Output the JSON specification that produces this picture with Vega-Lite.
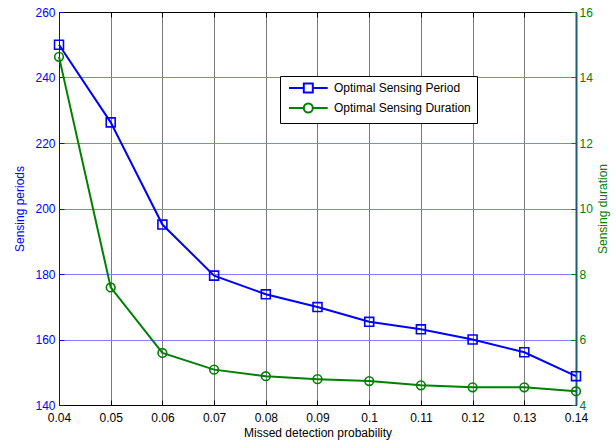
{
  "$schema": "https://vega.github.io/schema/vega-lite/v6.json",
  "width": 517,
  "height": 393,
  "autosize": {"type": "none"},
  "padding": {"left": 59, "top": 12, "right": 40, "bottom": 37},
  "background": "white",
  "config": {
    "font": "Liberation Sans",
    "view": {"stroke": "black", "strokeWidth": 1},
    "axis": {"labelFontSize": 12, "titleFontSize": 12, "titleFontWeight": "normal", "tickSize": -5, "tickWidth": 1, "domainWidth": 1, "labelFlush": false}
  },
  "data": {
    "values": [
      {"p": 0.04, "series": "Optimal Sensing Period", "v": 250},
      {"p": 0.05, "series": "Optimal Sensing Period", "v": 226.3},
      {"p": 0.06, "series": "Optimal Sensing Period", "v": 195.1},
      {"p": 0.07, "series": "Optimal Sensing Period", "v": 179.5},
      {"p": 0.08, "series": "Optimal Sensing Period", "v": 173.8},
      {"p": 0.09, "series": "Optimal Sensing Period", "v": 169.9},
      {"p": 0.10, "series": "Optimal Sensing Period", "v": 165.4},
      {"p": 0.11, "series": "Optimal Sensing Period", "v": 163.1},
      {"p": 0.12, "series": "Optimal Sensing Period", "v": 160},
      {"p": 0.13, "series": "Optimal Sensing Period", "v": 156.1},
      {"p": 0.14, "series": "Optimal Sensing Period", "v": 148.8},
      {"p": 0.04, "series": "Optimal Sensing Duration", "v": 14.63},
      {"p": 0.05, "series": "Optimal Sensing Duration", "v": 7.59},
      {"p": 0.06, "series": "Optimal Sensing Duration", "v": 5.59},
      {"p": 0.07, "series": "Optimal Sensing Duration", "v": 5.08},
      {"p": 0.08, "series": "Optimal Sensing Duration", "v": 4.88},
      {"p": 0.09, "series": "Optimal Sensing Duration", "v": 4.79},
      {"p": 0.10, "series": "Optimal Sensing Duration", "v": 4.73},
      {"p": 0.11, "series": "Optimal Sensing Duration", "v": 4.60},
      {"p": 0.12, "series": "Optimal Sensing Duration", "v": 4.54},
      {"p": 0.13, "series": "Optimal Sensing Duration", "v": 4.54},
      {"p": 0.14, "series": "Optimal Sensing Duration", "v": 4.42}
    ]
  },
  "encoding": {
    "color": {
      "field": "series",
      "type": "nominal",
      "scale": {"domain": ["Optimal Sensing Period", "Optimal Sensing Duration"], "range": ["#0000ff", "#008000"]},
      "legend": {
        "orient": "none",
        "legendX": 221,
        "legendY": 64,
        "title": null,
        "strokeColor": "black",
        "fillColor": "white",
        "padding": 6,
        "symbolSize": 100,
        "symbolStrokeWidth": 2,
        "labelFontSize": 12,
        "labelColor": "black",
        "labelOffset": 36,
        "rowPadding": 2,
        "encode": {
          "symbols": {
            "update": {
              "shape": {"signal": "datum.value === 'Optimal Sensing Period' ? 'M-0.6,0H2.36M4.16,0H7.14M2.36,-0.9H4.16V0.9H2.36Z' : 'M-0.6,0H2.36M4.16,0H7.14M4.16,0A0.9,0.9 0 1,1 2.36,0A0.9,0.9 0 1,1 4.16,0Z'"},
              "fill": {"value": "transparent"},
              "strokeWidth": {"value": 2}
            }
          }
        }
      }
    }
  },
  "layer": [
    {
      "transform": [{"filter": "datum.series === 'Optimal Sensing Period'"}],
      "encoding": {
        "x": {
          "field": "p", "type": "quantitative",
          "scale": {"domain": [0.04, 0.14], "nice": false, "zero": false},
          "axis": {
            "title": "Missed detection probability",
            "titleColor": "black",
            "values": [0.04, 0.05, 0.06, 0.07, 0.08, 0.09, 0.1, 0.11, 0.12, 0.13, 0.14],
            "format": ".2~f",
            "labelColor": "black",
            "labelFlush": false,
            "domainColor": "black",
            "tickColor": "black",
            "grid": true,
            "gridColor": "#7a7a7a",
            "gridWidth": 1,
            "labelPadding": 12,
            "titlePadding": 4
          }
        },
        "y": {
          "field": "v", "type": "quantitative",
          "scale": {"domain": [140, 260], "nice": false, "zero": false},
          "axis": {
            "orient": "left",
            "title": "Sensing periods",
            "titleColor": "#0000ff",
            "values": [140, 160, 180, 200, 220, 240, 260],
            "labelColor": "#0000ff",
            "domainColor": "#0000ff",
            "tickColor": "#0000ff",
            "grid": true,
            "gridColor": "#8080ff",
            "gridWidth": 1,
            "labelPadding": 9,
            "titlePadding": 8
          }
        }
      },
      "layer": [
        {"mark": {"type": "line", "strokeWidth": 2}},
        {"mark": {"type": "point", "shape": "square", "filled": false, "size": 80, "strokeWidth": 1.6, "opacity": 1}}
      ]
    },
    {
      "transform": [{"filter": "datum.series === 'Optimal Sensing Duration'"}],
      "encoding": {
        "x": {
          "field": "p", "type": "quantitative",
          "scale": {"domain": [0.04, 0.14], "nice": false, "zero": false},
          "axis": {
            "orient": "top",
            "title": null,
            "labels": false,
            "values": [0.04, 0.05, 0.06, 0.07, 0.08, 0.09, 0.1, 0.11, 0.12, 0.13, 0.14],
            "domainColor": "black",
            "tickColor": "black",
            "grid": false
          }
        },
        "y": {
          "field": "v", "type": "quantitative",
          "scale": {"domain": [4, 16], "nice": false, "zero": false},
          "axis": {
            "orient": "right",
            "title": "Sensing duration",
            "titleColor": "#008000",
            "titleAngle": 270,
            "titleBaseline": "bottom",
            "values": [4, 6, 8, 10, 12, 14, 16],
            "labelColor": "#008000",
            "domainColor": "#1d5c78",
            "domainWidth": 2,
            "tickColor": "#008000",
            "grid": false,
            "labelPadding": 8,
            "titlePadding": 17
          }
        }
      },
      "layer": [
        {"mark": {"type": "line", "strokeWidth": 2}},
        {"mark": {"type": "point", "shape": "circle", "filled": false, "size": 75, "strokeWidth": 1.6, "opacity": 1}}
      ]
    }
  ],
  "resolve": {"scale": {"y": "independent"}, "axis": {"x": "independent", "y": "independent"}}
}
